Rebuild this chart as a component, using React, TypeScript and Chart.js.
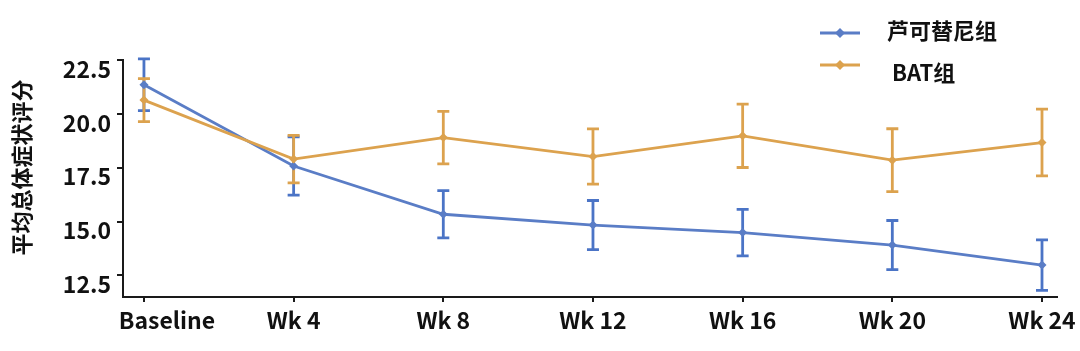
import React, { useEffect, useRef } from 'react';
import { Chart, registerables } from 'chart.js';

Chart.register(...registerables);

// ---- data ----
const categories = ['Baseline', 'Wk 4', 'Wk 8', 'Wk 12', 'Wk 16', 'Wk 20', 'Wk 24'];
const ruxLabel = '芦可替尼组';
const batLabel = 'BAT组';
const ruxMeans = [21.35, 17.58, 15.34, 14.84, 14.49, 13.91, 12.98];
const ruxErrors = [1.2, 1.35, 1.1, 1.14, 1.08, 1.14, 1.17];
const batMeans = [20.64, 17.9, 18.9, 18.02, 18.98, 17.85, 18.67];
const batErrors = [1.0, 1.1, 1.22, 1.28, 1.47, 1.46, 1.55];
const yTickValues = [12.5, 15, 17.5, 20, 22.5];
const yTitle = '平均总体症状评分';

// ---- styles ----
const BLUE = '#5a7dc6';
const BLUE_ERR = '#4b74c6';
const ORANGE = '#dca24e';
const AXIS = '#1a1a1a';
const FONT = "'Noto Sans CJK SC', 'Noto Sans', sans-serif";

const errorBarPlugin = {
  id: 'errorBars',
  beforeDatasetsDraw(chart: any) {
    const { ctx, scales } = chart;
    const x = scales.x;
    const y = scales.y;
    const sets: [number[], number[], string][] = [
      [ruxMeans, ruxErrors, BLUE_ERR],
      [batMeans, batErrors, ORANGE],
    ];
    ctx.save();
    ctx.lineCap = 'butt';
    sets.forEach(([m, e, c]) => {
      ctx.strokeStyle = c;
      ctx.lineWidth = 2.8;
      m.forEach((v, i) => {
        const px = x.getPixelForValue(i);
        const top = y.getPixelForValue(v + e[i]);
        const bot = y.getPixelForValue(v - e[i]);
        ctx.beginPath();
        ctx.moveTo(px, top);
        ctx.lineTo(px, bot);
        ctx.moveTo(px - 6, top);
        ctx.lineTo(px + 6, top);
        ctx.moveTo(px - 6, bot);
        ctx.lineTo(px + 6, bot);
        ctx.stroke();
      });
    });
    ctx.restore();
  },
};

const legendPlugin = {
  id: 'customLegend',
  afterDraw(chart: any) {
    const { ctx } = chart;
    const items = [
      { label: ruxLabel, color: BLUE, lineY: 33, textX: 887, textY: 31 },
      { label: batLabel, color: ORANGE, lineY: 65, textX: 892, textY: 73 },
    ];
    ctx.save();
    items.forEach((it) => {
      ctx.strokeStyle = it.color;
      ctx.lineWidth = 2.8;
      ctx.beginPath();
      ctx.moveTo(820, it.lineY);
      ctx.lineTo(860, it.lineY);
      ctx.stroke();
      ctx.fillStyle = it.color;
      ctx.beginPath();
      ctx.moveTo(840, it.lineY - 5);
      ctx.lineTo(845, it.lineY);
      ctx.lineTo(840, it.lineY + 5);
      ctx.lineTo(835, it.lineY);
      ctx.closePath();
      ctx.fill();
      ctx.fillStyle = '#111';
      ctx.font = `bold 22px ${FONT}`;
      ctx.textAlign = 'left';
      ctx.textBaseline = 'middle';
      ctx.fillText(it.label, it.textX, it.textY);
    });
    ctx.restore();
  },
};

export default function App() {
  const canvasRef = useRef<HTMLCanvasElement | null>(null);

  useEffect(() => {
    const canvas = canvasRef.current;
    if (!canvas) return;
    const chart = new Chart(canvas, {
      type: 'line',
      data: {
        datasets: [
          {
            label: ruxLabel,
            data: ruxMeans.map((v, i) => ({ x: i, y: v })),
            borderColor: BLUE,
            backgroundColor: BLUE,
            borderWidth: 2.8,
            pointStyle: 'rectRot',
            pointRadius: 4.5,
            pointBorderWidth: 0,
            tension: 0,
            clip: false as any,
            order: 1,
          },
          {
            label: batLabel,
            data: batMeans.map((v, i) => ({ x: i, y: v })),
            borderColor: ORANGE,
            backgroundColor: ORANGE,
            borderWidth: 2.8,
            pointStyle: 'rectRot',
            pointRadius: 4.5,
            pointBorderWidth: 0,
            tension: 0,
            clip: false as any,
            order: 0,
          },
        ],
      },
      options: {
        animation: false,
        responsive: false,
        maintainAspectRatio: false,
        layout: { padding: { left: 0, right: 22, top: 60, bottom: 0 } },
        plugins: {
          legend: { display: false },
          tooltip: { enabled: false },
        },
        scales: {
          x: {
            type: 'linear',
            min: -0.14,
            max: 6.1,
            afterBuildTicks: (scale: any) => {
              scale.ticks = categories.map((_, i) => ({ value: i }));
            },
            afterFit: (scale: any) => {
              scale.height = 54;
            },
            ticks: {
              autoSkip: false,
              maxRotation: 0,
              padding: 4,
              color: '#111',
              font: { family: FONT, size: 23, weight: 'bold' },
              callback: (v: any) => {
                const lbl = categories[Number(v)];
                return Number(v) === 0 ? '\u2002\u2002\u2002\u2002' + lbl : lbl;
              },
            },
            grid: {
              display: true,
              drawOnChartArea: false,
              drawTicks: true,
              tickLength: 5,
              color: AXIS,
              lineWidth: 2,
            },
            border: { display: true, color: AXIS, width: 2 },
          },
          y: {
            type: 'linear',
            min: 11.5,
            max: 22.5,
            afterBuildTicks: (scale: any) => {
              scale.ticks = yTickValues.map((v) => ({ value: v }));
            },
            afterFit: (scale: any) => {
              scale.width = 123;
            },
            ticks: {
              padding: 6,
              labelOffset: 9,
              color: '#111',
              font: { family: FONT, size: 23, weight: 'bold' },
              callback: (v: any) => Number(v).toFixed(1),
            },
            grid: {
              display: true,
              drawOnChartArea: false,
              drawTicks: true,
              tickLength: 6,
              color: AXIS,
              lineWidth: 2,
            },
            border: { display: true, color: AXIS, width: 2 },
            title: {
              display: true,
              text: '\u3000' + yTitle,
              color: '#111',
              font: { family: FONT, size: 22, weight: 'bold' },
              padding: { top: 8, bottom: 0 },
            },
          },
        },
      },
      plugins: [errorBarPlugin, legendPlugin],
    });
    return () => chart.destroy();
  }, []);

  return (
    <div style={{ position: 'fixed', left: 0, top: 0, width: 1080, height: 351, background: '#fff' }}>
      <canvas ref={canvasRef} width={1080} height={351} style={{ width: 1080, height: 351 }} />
    </div>
  );
}
